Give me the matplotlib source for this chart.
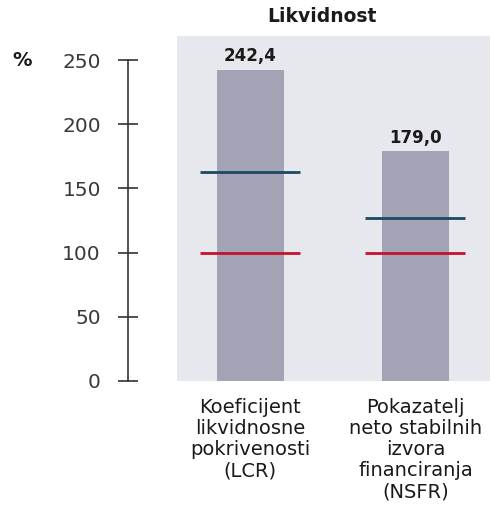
import matplotlib
matplotlib.use("Agg")
import matplotlib.pyplot as plt

categories = ["Koeficijent\nlikvidnosne\npokrivenosti\n(LCR)",
              "Pokazatelj\nneto stabilnih\nizvora\nfinanciranja\n(NSFR)"]
values = [242.4, 179.0]
value_labels = ["242,4", "179,0"]
blue_levels = [162.8, 127.0]
red_levels = [100.0, 100.0]
yticks = [0, 50, 100, 150, 200, 250]

plt.rcParams['font.family'] = ['DejaVu Sans']

W, H = 491, 512
fig = plt.figure(figsize=(W/100, H/100), dpi=100)
left, right, top, bottom = 177, 490, 36, 381
ax = fig.add_axes([left/W, 1-bottom/H, (right-left)/W, (bottom-top)/H])
ax.set_facecolor('#e7e7ee')
ax.set_ylim(0, 268.7)
ax.set_xlim(-0.445, 1.452)

x = list(range(len(values)))
ax.bar(x, values, width=0.406, color='#a3a3b6', zorder=2)
for xi, b, r in zip(x, blue_levels, red_levels):
    ax.hlines(b, xi-0.303, xi+0.303, color='#1b4a63', lw=2, zorder=3)
    ax.hlines(r, xi-0.303, xi+0.303, color='#c8102e', lw=2, zorder=3)
for xi, v, lab in zip(x, values, value_labels):
    ax.text(xi, v+3.5, lab, ha='center', va='bottom', fontsize=12,
            fontweight='bold', color='#1a1a1a')

for s in ['top', 'right', 'bottom']:
    ax.spines[s].set_visible(False)
ax.spines['left'].set_position(('outward', 35.3))
ax.spines['left'].set_bounds(0, 250)
ax.spines['left'].set_color('#333333')
ax.spines['left'].set_linewidth(1.2)
ax.set_yticks(yticks)
ax.set_yticklabels([str(t) for t in yticks])
ax.tick_params(axis='y', direction='inout', length=15, width=1.2,
               color='#333333', labelsize=14.5, labelcolor='#3a3a3a', pad=12)
ax.set_xticks(x)
ax.set_xticklabels(categories, fontsize=14, color='#1a1a1a', linespacing=1.15)
ax.tick_params(axis='x', length=0, pad=12)

fig.text(12/W, 1-61/H, '%', fontsize=14, fontweight='bold', va='center',
         ha='left', color='#1a1a1a')
fig.text(322/W, 1-17/H, 'Likvidnost', fontsize=13.5, fontweight='bold',
         ha='center', va='center', color='#1a1a1a')

fig.savefig('out.png', dpi=100)
